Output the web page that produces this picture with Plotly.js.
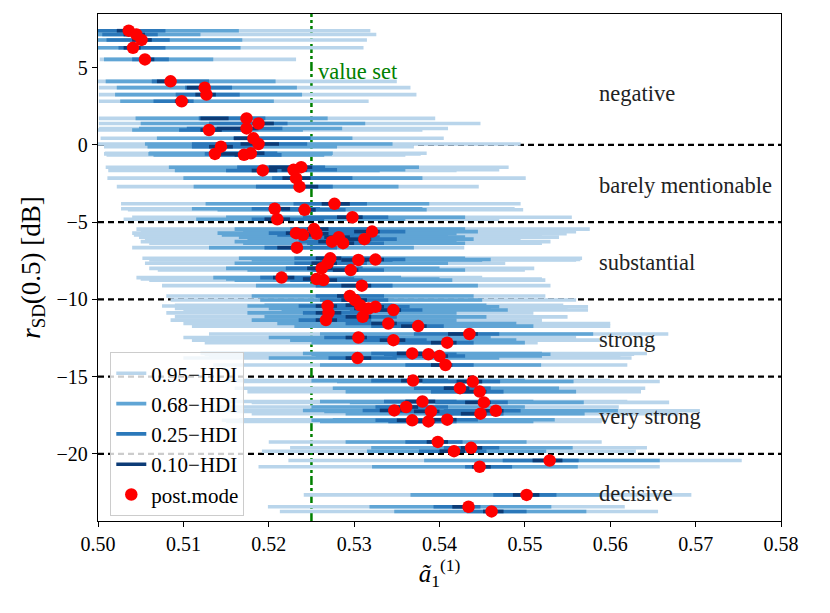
<!DOCTYPE html>
<html>
<head>
<meta charset="utf-8">
<script src="https://cdn.plot.ly/plotly-3.0.1.min.js"></script>
<style>html,body{margin:0;padding:0;background:#fff;}#chart{width:830px;height:613px;}</style>
</head>
<body>
<div id="chart"></div>
<script>
// r_SD(0.5) [dB] of each run
const rSD = [7.40,7.15,6.80,6.29,5.54,4.12,3.71,3.26,2.83,1.72,1.39,1.07,0.97,0.43,0.06,-0.11,-0.54,-0.58,-0.64,-1.44,-1.61,-1.65,-2.15,-2.70,
-3.81,-4.13,-4.20,-4.68,-4.81,-5.45,-5.61,-5.71,-5.75,-5.82,-5.97,-6.10,-6.26,-6.36,-6.65,-7.34,-7.45,-7.42,-7.66,-7.99,-8.10,-8.59,-8.68,-8.75,-9.11,
-9.78,-10.04,-10.43,-10.38,-10.48,-10.59,-10.69,-10.87,-11.13,-11.34,-11.56,-11.73,-12.24,-12.47,-12.64,-12.80,-13.50,-13.55,-13.67,-13.80,-14.25,
-15.26,-15.32,-15.75,-15.97,-16.61,-16.67,-16.97,-17.19,-17.25,-17.21,-17.40,-17.79,-17.90,-17.83,-19.23,-19.61,-19.83,-20.43,-20.84,-22.66,-23.43,-23.73];
// posterior mode
const postMode = [0.5036,0.5045,0.5051,0.5041,0.5055,0.5085,0.5125,0.5127,0.5098,0.5174,0.5188,0.5174,0.5130,0.5182,0.5188,0.5144,0.5179,0.5137,0.5171,0.5238,0.5229,0.5193,0.5232,0.5236,
0.5277,0.5207,0.5242,0.5298,0.5210,0.5253,0.5321,0.5232,0.5256,0.5240,0.5282,0.5312,0.5274,0.5287,0.5233,0.5272,0.5305,0.5325,0.5269,0.5262,0.5296,0.5215,0.5256,0.5264,0.5309,
0.5295,0.5301,0.5269,0.5307,0.5325,0.5317,0.5346,0.5270,0.5310,0.5267,0.5340,0.5375,0.5435,0.5305,0.5346,0.5409,0.5368,0.5387,0.5400,0.5304,0.5407,
0.5369,0.5439,0.5424,0.5447,0.5380,0.5452,0.5361,0.5347,0.5390,0.5466,0.5448,0.5409,0.5387,0.5368,0.5398,0.5437,0.5417,0.5529,0.5447,0.5502,0.5434,0.5461];
// 0.95-HDI
const lo95 = [0.4990,0.4990,0.4990,0.4990,0.5002,0.4998,0.5001,0.5001,0.5001,0.5001,0.5001,0.5001,0.5000,0.5003,0.4998,0.5007,0.5008,0.5007,0.5010,0.5009,0.5015,0.5012,0.5011,0.5022,
0.5027,0.5027,0.5035,0.5040,0.5030,0.5045,0.5050,0.5040,0.5045,0.5042,0.5048,0.5055,0.5050,0.5060,0.5040,0.5052,0.5060,0.5065,0.5055,0.5060,0.5070,0.5045,0.5050,0.5060,0.5075,
0.5080,0.5085,0.5075,0.5090,0.5095,0.5090,0.5100,0.5080,0.5090,0.5085,0.5100,0.5110,0.5130,0.5100,0.5110,0.5125,0.5120,0.5125,0.5130,0.5100,0.5135,
0.5150,0.5170,0.5160,0.5175,0.5150,0.5180,0.5140,0.5130,0.5155,0.5185,0.5180,0.5165,0.5150,0.5145,0.5200,0.5225,0.5192,0.5223,0.5188,0.5241,0.5199,0.5213];
const hi95 = [0.5319,0.5326,0.5315,0.5311,0.5232,0.5350,0.5366,0.5373,0.5317,0.5395,0.5448,0.5410,0.5380,0.5405,0.5495,0.5370,0.5385,0.5378,0.5360,0.5481,0.5470,0.5420,0.5501,0.5446,
0.5495,0.5488,0.5498,0.5555,0.5470,0.5576,0.5560,0.5510,0.5549,0.5520,0.5540,0.5495,0.5530,0.5520,0.5429,0.5567,0.5560,0.5565,0.5477,0.5511,0.5500,0.5450,0.5520,0.5524,0.5530,
0.5524,0.5560,0.5535,0.5545,0.5574,0.5550,0.5574,0.5510,0.5550,0.5520,0.5600,0.5600,0.5668,0.5560,0.5590,0.5515,0.5643,0.5628,0.5612,0.5625,0.5620,
0.5600,0.5658,0.5641,0.5636,0.5620,0.5669,0.5610,0.5600,0.5650,0.5705,0.5680,0.5593,0.5590,0.5585,0.5590,0.5643,0.5630,0.5754,0.5658,0.5695,0.5617,0.5656];
// 0.68-HDI
const lo68 = [0.4995,0.4995,0.4995,0.4998,0.5007,0.5009,0.5022,0.5020,0.5026,0.5044,0.5050,0.5048,0.5040,0.5069,0.5055,0.5058,0.5060,0.5059,0.5065,0.5083,0.5100,0.5090,0.5100,0.5112,
0.5126,0.5110,0.5140,0.5150,0.5115,0.5160,0.5170,0.5140,0.5150,0.5145,0.5165,0.5175,0.5160,0.5170,0.5130,0.5165,0.5180,0.5190,0.5160,0.5150,0.5175,0.5135,0.5150,0.5160,0.5185,
0.5180,0.5190,0.5175,0.5195,0.5205,0.5200,0.5215,0.5175,0.5195,0.5180,0.5210,0.5230,0.5260,0.5200,0.5225,0.5250,0.5240,0.5250,0.5255,0.5200,0.5260,
0.5250,0.5280,0.5275,0.5290,0.5260,0.5295,0.5250,0.5240,0.5265,0.5305,0.5290,0.5275,0.5260,0.5250,0.5290,0.5320,0.5315,0.5382,0.5321,0.5366,0.5318,0.5347];
const hi68 = [0.5165,0.5120,0.5169,0.5167,0.5135,0.5208,0.5233,0.5239,0.5206,0.5269,0.5313,0.5286,0.5240,0.5298,0.5345,0.5280,0.5275,0.5274,0.5265,0.5376,0.5360,0.5330,0.5380,0.5352,
0.5388,0.5380,0.5385,0.5430,0.5360,0.5430,0.5445,0.5400,0.5420,0.5410,0.5430,0.5440,0.5420,0.5430,0.5370,0.5430,0.5450,0.5460,0.5410,0.5400,0.5430,0.5355,0.5400,0.5415,0.5445,
0.5440,0.5450,0.5420,0.5455,0.5470,0.5460,0.5480,0.5420,0.5455,0.5420,0.5490,0.5510,0.5580,0.5460,0.5490,0.5500,0.5520,0.5530,0.5520,0.5470,0.5519,
0.5500,0.5557,0.5540,0.5560,0.5510,0.5569,0.5500,0.5490,0.5530,0.5609,0.5570,0.5535,0.5510,0.5500,0.5502,0.5556,0.5525,0.5658,0.5562,0.5590,0.5531,0.5572];
// 0.25-HDI
const lo25 = [0.4998,0.5005,0.5010,0.5024,0.5040,0.5063,0.5102,0.5091,0.5065,0.5118,0.5130,0.5104,0.5095,0.5159,0.5110,0.5110,0.5130,0.5125,0.5140,0.5163,0.5180,0.5150,0.5204,0.5185,
0.5229,0.5180,0.5215,0.5240,0.5180,0.5225,0.5270,0.5200,0.5225,0.5210,0.5240,0.5260,0.5235,0.5245,0.5195,0.5230,0.5260,0.5280,0.5230,0.5220,0.5250,0.5190,0.5215,0.5225,0.5255,
0.5255,0.5260,0.5235,0.5265,0.5280,0.5275,0.5295,0.5240,0.5265,0.5235,0.5290,0.5320,0.5370,0.5265,0.5300,0.5350,0.5320,0.5335,0.5345,0.5270,0.5360,
0.5320,0.5380,0.5370,0.5390,0.5335,0.5395,0.5325,0.5310,0.5345,0.5405,0.5390,0.5360,0.5340,0.5325,0.5360,0.5405,0.5376,0.5474,0.5430,0.5463,0.5393,0.5432];
const hi25 = [0.5079,0.5070,0.5084,0.5079,0.5083,0.5130,0.5157,0.5166,0.5112,0.5196,0.5222,0.5216,0.5170,0.5249,0.5245,0.5190,0.5210,0.5200,0.5215,0.5266,0.5280,0.5240,0.5298,0.5275,
0.5315,0.5260,0.5290,0.5340,0.5265,0.5320,0.5360,0.5290,0.5310,0.5300,0.5330,0.5350,0.5320,0.5335,0.5280,0.5320,0.5345,0.5360,0.5315,0.5310,0.5335,0.5265,0.5300,0.5310,0.5345,
0.5335,0.5340,0.5320,0.5345,0.5365,0.5355,0.5380,0.5320,0.5350,0.5320,0.5380,0.5405,0.5470,0.5345,0.5385,0.5440,0.5405,0.5420,0.5430,0.5350,0.5440,
0.5410,0.5471,0.5460,0.5475,0.5420,0.5480,0.5410,0.5395,0.5430,0.5495,0.5475,0.5445,0.5420,0.5405,0.5427,0.5470,0.5455,0.5563,0.5485,0.5537,0.5448,0.5502];
// 0.10-HDI
const lo10 = [0.5022,0.5030,0.5040,0.5030,0.5048,0.5069,0.5104,0.5114,0.5090,0.5120,0.5181,0.5139,0.5120,0.5159,0.5167,0.5130,0.5165,0.5140,0.5160,0.5200,0.5215,0.5180,0.5216,0.5233,
0.5262,0.5200,0.5235,0.5280,0.5195,0.5245,0.5300,0.5220,0.5245,0.5230,0.5265,0.5290,0.5258,0.5270,0.5210,0.5255,0.5285,0.5305,0.5250,0.5245,0.5275,0.5205,0.5240,0.5250,0.5285,
0.5280,0.5285,0.5255,0.5290,0.5305,0.5300,0.5325,0.5255,0.5290,0.5255,0.5320,0.5355,0.5410,0.5290,0.5330,0.5390,0.5350,0.5370,0.5380,0.5290,0.5390,
0.5355,0.5420,0.5405,0.5425,0.5360,0.5430,0.5345,0.5330,0.5370,0.5445,0.5425,0.5390,0.5365,0.5350,0.5385,0.5425,0.5400,0.5509,0.5438,0.5486,0.5415,0.5451];
const hi10 = [0.5045,0.5055,0.5063,0.5050,0.5066,0.5090,0.5130,0.5138,0.5106,0.5153,0.5206,0.5188,0.5145,0.5180,0.5212,0.5158,0.5195,0.5165,0.5185,0.5251,0.5245,0.5210,0.5249,0.5258,
0.5295,0.5225,0.5255,0.5310,0.5225,0.5270,0.5330,0.5245,0.5270,0.5255,0.5295,0.5320,0.5285,0.5300,0.5240,0.5285,0.5315,0.5335,0.5280,0.5275,0.5305,0.5230,0.5265,0.5280,0.5320,
0.5305,0.5315,0.5280,0.5320,0.5335,0.5330,0.5355,0.5285,0.5320,0.5280,0.5350,0.5385,0.5445,0.5315,0.5360,0.5420,0.5380,0.5400,0.5410,0.5320,0.5415,
0.5380,0.5450,0.5435,0.5455,0.5395,0.5460,0.5375,0.5360,0.5400,0.5475,0.5455,0.5420,0.5395,0.5380,0.5410,0.5450,0.5430,0.5544,0.5460,0.5517,0.5440,0.5475];

const hdiLabels = ['0.95\u2212HDI','0.68\u2212HDI','0.25\u2212HDI','0.10\u2212HDI'];
const hdiColors = ['#b9d5eb','#60a5d5','#2b78ba','#0c3b76'];
const bounds = [[lo95,hi95],[lo68,hi68],[lo25,hi25],[lo10,hi10]];

const regionLabels = ['negative','barely mentionable','substantial','strong','very strong','decisive'];
const regionY = [3.35,-2.6,-7.6,-12.6,-17.6,-22.55];
const thresholds = [0,-5,-10,-15,-20];
const valueSet = 0.525;

const traces = [];
bounds.forEach((b,k)=>{
  const xs=[], ys=[];
  for(let i=0;i<rSD.length;i++){ xs.push(b[0][i], b[1][i], null); ys.push(rSD[i], rSD[i], null); }
  traces.push({x:xs, y:ys, type:'scatter', mode:'lines', name:hdiLabels[k], legendgroup:'g'+k,
    line:{color:hdiColors[k], width:3.6}, hoverinfo:'skip'});
});
traces.push({x:postMode, y:rSD, type:'scatter', mode:'markers', name:'post.mode', legendgroup:'g5',
  marker:{color:'#ff0000', size:12.5, line:{width:0}}});

const shapes = thresholds.map(t=>({type:'line', xref:'paper', x0:0, x1:1, yref:'y', y0:t, y1:t,
  line:{color:'black', width:2.2, dash:'6px,4px'}, layer:'below'}));
shapes.push({type:'line', xref:'x', x0:valueSet, x1:valueSet, yref:'paper', y0:0, y1:1,
  line:{color:'#008000', width:2.5, dash:'dashdot'}, layer:'below'});

const serif = '"Liberation Serif", "DejaVu Serif", serif';
const annotations = regionLabels.map((t,i)=>({x:0.5585, y:regionY[i], xref:'x', yref:'y', text:t,
  showarrow:false, xanchor:'left', yanchor:'middle', font:{family:serif, size:22.5, color:'#222'}}));
annotations.push({x:0.5255, y:4.75, xref:'x', yref:'y', text:'value set', showarrow:false,
  xanchor:'left', yanchor:'middle', font:{family:serif, size:22.5, color:'#008000'}});

const layout = {
  width:830, height:613,
  margin:{l:98, r:49, t:14, b:92},
  paper_bgcolor:'#fff', plot_bgcolor:'#fff',
  font:{family:serif, size:20, color:'#000'},
  showlegend:true,
  legend:{x:0.018, y:0.333, xanchor:'left', yanchor:'top', bgcolor:'rgba(255,255,255,0.8)',
    bordercolor:'#cccccc', borderwidth:1, font:{family:serif, size:21}, tracegroupgap:0,
    itemwidth:30},
  xaxis:{range:[0.50,0.58], tickvals:[0.50,0.51,0.52,0.53,0.54,0.55,0.56,0.57,0.58],
    ticktext:['0.50','0.51','0.52','0.53','0.54','0.55','0.56','0.57','0.58'],
    showline:true, mirror:true, linecolor:'#000', linewidth:1.2, ticks:'outside', ticklen:5,
    tickcolor:'#000', showgrid:false, zeroline:false, tickfont:{family:serif, size:20},
    title:{text:'<i>\u00e3</i><sub>1</sub><sup>(1)</sup>', font:{family:serif, size:25}, standoff:6}},
  yaxis:{range:[-24.35,8.48], tickvals:[5,0,-5,-10,-15,-20],
    showline:true, mirror:true, linecolor:'#000', linewidth:1.2, ticks:'outside', ticklen:5,
    tickcolor:'#000', showgrid:false, zeroline:false, tickfont:{family:serif, size:20},
    title:{text:'<i>r</i><sub>SD</sub>(0.5) [dB]', font:{family:serif, size:27}, standoff:8}},
  shapes:shapes,
  annotations:annotations
};
Plotly.newPlot('chart', traces, layout, {displayModeBar:false, staticPlot:true});
</script>
</body>
</html>
